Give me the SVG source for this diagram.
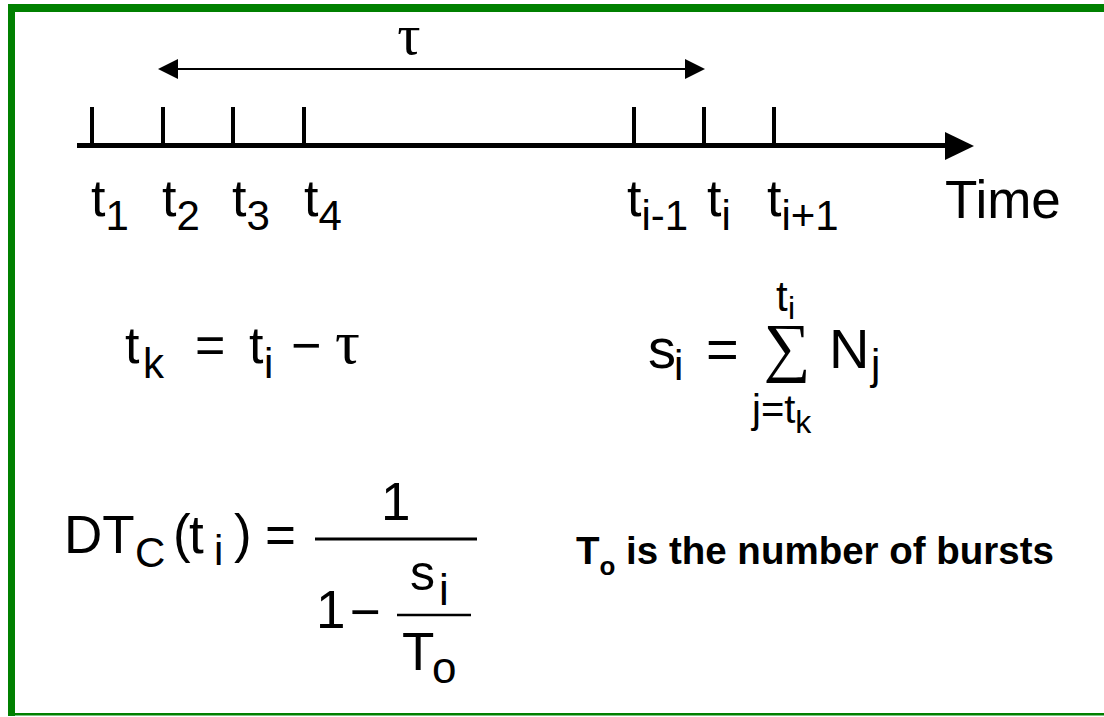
<svg xmlns="http://www.w3.org/2000/svg" width="1104" height="717" viewBox="0 0 1104 717">
<style>
.t{font-family:"Liberation Sans",Arial,sans-serif;fill:#000}
.m{font-size:52px}
.s{font-size:42px}
.g{font-family:"Liberation Serif","Times New Roman",serif;fill:#000}
.b{font-family:"Liberation Sans",Arial,sans-serif;font-weight:bold;fill:#000}
.tick{stroke:#000;stroke-width:4}
</style>
<rect width="1104" height="717" fill="#fff"/>
<g id="border" fill="#008000">
<rect x="8" y="4" width="7" height="712"/>
<rect x="8" y="4" width="1096" height="8"/>
<rect x="8" y="713" width="1096" height="2.5"/>
</g>
<g id="connectors">
<line x1="77" y1="145.5" x2="947" y2="145.5" stroke="#000" stroke-width="5"/>
<polygon points="974,146 945,132 945,160" fill="#000"/>
<line x1="175" y1="69" x2="688" y2="69" stroke="#000" stroke-width="2"/>
<polygon points="158,69 178,59 178,79" fill="#000"/>
<polygon points="705,69 685,59 685,79" fill="#000"/>
<line class="tick" x1="92" y1="107" x2="92" y2="145"/>
<line class="tick" x1="163" y1="107" x2="163" y2="145"/>
<line class="tick" x1="233" y1="107" x2="233" y2="145"/>
<line class="tick" x1="304" y1="107" x2="304" y2="145"/>
<line class="tick" x1="634" y1="107" x2="634" y2="145"/>
<line class="tick" x1="704" y1="107" x2="704" y2="145"/>
<line class="tick" x1="774" y1="107" x2="774" y2="145"/>
</g>
<g id="tau-label"><text class="g" x="409" y="54" font-size="58" text-anchor="middle">τ</text></g>
<g id="labels">
<text class="t m" x="91" y="216">t<tspan class="s" dy="14">1</tspan></text>
<text class="t m" x="162" y="216">t<tspan class="s" dy="14">2</tspan></text>
<text class="t m" x="232" y="216">t<tspan class="s" dy="14">3</tspan></text>
<text class="t m" x="304" y="216">t<tspan class="s" dy="14">4</tspan></text>
<text class="t m" x="627" y="216">t<tspan class="s" dy="14">i-1</tspan></text>
<text class="t m" x="707" y="216">t<tspan class="s" dy="14">i</tspan></text>
<text class="t m" x="767" y="216">t<tspan class="s" dy="14">i+1</tspan></text>
<text class="t" x="945" y="218" font-size="53">Time</text>
</g>
<g id="formula-tk">
<text class="t m" x="125" y="363">t</text>
<text class="t s" x="143" y="378">k</text>
<text class="t m" x="195" y="363">=</text>
<text class="t m" x="249" y="363">t</text>
<text class="t s" x="264" y="378">i</text>
<text class="t m" x="291" y="363">−</text>
<text class="g" x="335" y="363" font-size="62">τ</text>
</g>
<g id="formula-si">
<text class="t" x="648" y="368" font-size="56">s</text>
<text class="t s" x="674" y="380">i</text>
<text class="t" x="706" y="368" font-size="56">=</text>
<text class="g" x="787" y="369" font-size="66" text-anchor="middle">∑</text>
<text class="t" x="776" y="311" font-size="42">t</text>
<text class="t" x="788" y="319" font-size="32">i</text>
<text class="t" x="752" y="423" font-size="40">j=t<tspan font-size="32" dy="10">k</tspan></text>
<text class="t" x="829" y="368" font-size="56">N</text>
<text class="t s" x="871" y="379">j</text>
</g>
<g id="formula-dtc">
<text class="t" x="64" y="553" font-size="53">DT</text>
<text class="t s" x="135" y="567">C</text>
<text class="t" x="173" y="552" font-size="53">(</text>
<text class="t" x="189" y="553" font-size="53">t</text>
<text class="t s" x="214" y="565">i</text>
<text class="t" x="234" y="552" font-size="53">)</text>
<text class="t" x="265" y="553" font-size="53">=</text>
<line x1="315" y1="539" x2="477" y2="539" stroke="#000" stroke-width="3"/>
<text class="t" x="381" y="520" font-size="53">1</text>
<text class="t" x="316" y="628" font-size="53">1</text>
<text class="t" x="350" y="630" font-size="53">−</text>
<line x1="397" y1="615" x2="471" y2="615" stroke="#000" stroke-width="2.5"/>
<text class="t" x="410" y="590" font-size="50">s</text>
<text class="t" x="439" y="605" font-size="44">i</text>
<text class="t" x="402" y="670" font-size="53">T</text>
<text class="t" x="432" y="683" font-size="44">o</text>
</g>
<g id="note">
<text class="b" x="576" y="564" font-size="38.5">T<tspan font-size="26" dy="11">o</tspan><tspan dy="-11"> is the number of bursts</tspan></text>
</g>
</svg>
